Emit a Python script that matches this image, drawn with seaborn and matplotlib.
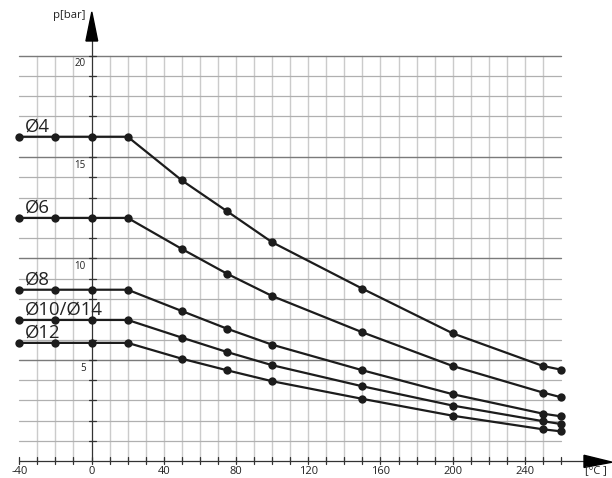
import numpy as np
import pandas as pd
import matplotlib
matplotlib.use("Agg")
import matplotlib.pyplot as plt
import seaborn as sns

# temperature [°C] and max. pressure [bar] per tube size
temps = [-40, -20, 0, 20, 50, 75, 100, 150, 200, 250, 260]
p_d4 = [16.0, 16.0, 16.0, 16.0, 13.85, 12.33, 10.8, 8.51, 6.31, 4.7, 4.52]
p_d6 = [12.0, 12.0, 12.0, 12.0, 10.47, 9.25, 8.15, 6.36, 4.7, 3.39, 3.16]
p_d8 = [8.46, 8.46, 8.46, 8.46, 7.41, 6.54, 5.75, 4.49, 3.31, 2.35, 2.22]
p_d10 = [6.97, 6.97, 6.97, 6.97, 6.1, 5.39, 4.74, 3.7, 2.75, 1.98, 1.84]
p_d12 = [5.84, 5.84, 5.84, 5.84, 5.06, 4.49, 3.95, 3.08, 2.25, 1.58, 1.48]
series_names = ["Ø4", "Ø6", "Ø8", "Ø10/Ø14", "Ø12"]
x_ticklabels = [-40, 0, 40, 80, 120, 160, 200, 240]
y_ticklabels = [5, 10, 15, 20]

sns.set_style("white")
plt.rcParams["font.family"] = ["Open Sans", "DejaVu Sans"]

all_p = [p_d4, p_d6, p_d8, p_d10, p_d12]
df = pd.DataFrame({
    "temp": temps * len(all_p),
    "p": sum(all_p, []),
    "size": np.repeat(series_names, len(temps)),
})

fig = plt.figure(figsize=(6.12, 4.78), dpi=100)
ax = fig.add_axes([0, 0, 1, 1])
ax.set_xlim(-50.69, 288.2)
ax.set_ylim(-0.82, 22.74)
ax.axis("off")

# grid
for xv in range(-30, 260, 10):
    if xv == 0:
        continue
    ax.plot([xv, xv], [0, 20], color="#cbcbcb", lw=1.0, zorder=1)
for yv in range(1, 21):
    major = yv % 5 == 0
    ax.plot([-40, 260], [yv, yv], color="#7a7a7a" if major else "#b0b0b0",
            lw=1.0 if major else 0.9, zorder=1)

# axes with arrows
ax.plot([-40, 272.7], [0, 0], color="#333333", lw=0.9, zorder=2)
ax.plot([0, 0], [0, 20.75], color="#333333", lw=0.9, zorder=2)
for xv in range(-40, 261, 10):
    ax.plot([xv, xv], [-0.12, 0.2], color="#333333", lw=0.9, zorder=2)
for yv in range(1, 21):
    ax.plot([-1.5, 2.2], [yv, yv], color="#333333", lw=0.9, zorder=2)
ax.fill([-3.1, 3.4, 0.15], [20.72, 20.72, 22.15], color="black", zorder=3)
ax.fill([272.7, 272.7, 288.3], [0.3, -0.3, -0.04], color="black", zorder=3)

sns.lineplot(data=df, x="temp", y="p", hue="size", palette=["#1c1c1c"] * 5,
             marker="o", markersize=6, markeredgewidth=0, lw=1.6,
             legend=False, sort=False, ax=ax, zorder=4)

for name, vals in zip(series_names, all_p):
    ax.text(-36.9, vals[0] + 0.27, name, fontsize=13.3, color="#222222",
            ha="left", va="baseline", zorder=5)

for t in x_ticklabels:
    ax.text(t, -0.48, str(t), fontsize=8, color="#222222",
            ha="center", va="center")
for t in y_ticklabels:
    ax.text(-3.3, t - 0.4, str(t), fontsize=7, color="#222222",
            ha="right", va="center")

ax.text(-12.5, 21.97, "p[bar]", fontsize=8.2, color="#222222",
        ha="center", va="center")
ax.text(279.5, -0.45, "[°C ]", fontsize=8, color="#222222",
        ha="center", va="center")

fig.savefig("out.png", dpi=100)
